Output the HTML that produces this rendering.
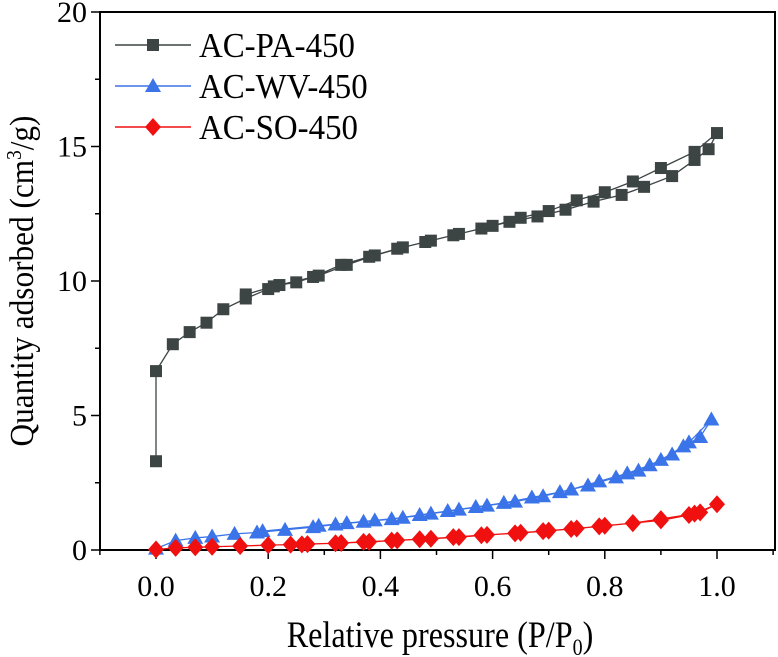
<!DOCTYPE html>
<html><head><meta charset="utf-8"><style>
body{margin:0;background:#fff;}
svg{display:block;font-family:"Liberation Serif",serif;}
</style></head><body>
<svg id="chart" width="778" height="657"></svg>
<script>
const xTicks=[0.0,0.2,0.4,0.6,0.8,1.0];
const xTickLabels=["0.0","0.2","0.4","0.6","0.8","1.0"];
const yTicks=[0,5,10,15,20];
const yTickLabels=["0","5","10","15","20"];
const paX=[0,0,0.03,0.06,0.09,0.12,0.16,0.2,0.22,0.25,0.28,0.33,0.38,0.43,0.48,0.53,0.58,0.63,0.68,0.73,0.78,0.83,0.87,0.92,0.96,0.985,1.0,0.96,0.9,0.85,0.8,0.75,0.7,0.65,0.6,0.54,0.49,0.44,0.39,0.34,0.29,0.21,0.16];
const paY=[3.3,6.65,7.65,8.1,8.45,8.95,9.35,9.7,9.85,9.95,10.15,10.6,10.9,11.2,11.45,11.7,11.95,12.2,12.4,12.65,12.95,13.2,13.5,13.9,14.5,14.9,15.5,14.8,14.2,13.7,13.3,13.0,12.6,12.35,12.05,11.75,11.5,11.25,10.95,10.6,10.2,9.8,9.5];
const wvX=[0,0.035,0.07,0.1,0.14,0.18,0.23,0.28,0.32,0.37,0.42,0.47,0.52,0.57,0.62,0.67,0.72,0.77,0.82,0.86,0.9,0.94,0.97,0.99,0.95,0.92,0.88,0.84,0.79,0.74,0.69,0.64,0.59,0.54,0.49,0.44,0.39,0.34,0.29,0.19];
const wvY=[0.05,0.35,0.45,0.5,0.6,0.65,0.75,0.85,0.95,1.05,1.15,1.3,1.45,1.6,1.75,1.95,2.15,2.4,2.7,2.95,3.35,3.85,4.2,4.85,4.0,3.55,3.15,2.85,2.55,2.25,2.0,1.8,1.65,1.5,1.35,1.2,1.1,1.0,0.9,0.7];
const soX=[0,0.035,0.07,0.1,0.15,0.2,0.24,0.27,0.32,0.37,0.42,0.47,0.53,0.58,0.64,0.69,0.74,0.8,0.85,0.9,0.95,0.97,1.0,0.96,0.9,0.85,0.79,0.75,0.7,0.65,0.59,0.54,0.49,0.43,0.38,0.33,0.26];
const soY=[0.02,0.08,0.1,0.12,0.15,0.18,0.2,0.22,0.25,0.3,0.35,0.4,0.48,0.55,0.62,0.7,0.78,0.9,1.0,1.1,1.3,1.4,1.7,1.35,1.15,1.0,0.88,0.8,0.72,0.64,0.56,0.48,0.42,0.36,0.3,0.26,0.21];

const NS="http://www.w3.org/2000/svg";
const svg=document.getElementById('chart');
const L=100,R=775,T=12,B=550;
const X0=156,X1=717;
const xs=v=>X0+(X1-X0)*v;
const ys=v=>B-(B-T)*v/20;
function mk(tag,attrs,parent){const e=document.createElementNS(NS,tag);for(const k in attrs)e.setAttribute(k,attrs[k]);(parent||svg).appendChild(e);return e;}

const frame=mk('rect',{x:L,y:T,width:R-L,height:B-T,fill:'none',stroke:'#000','stroke-width':2});



for(let v=-0.1;v<=1.1001;v+=0.1){const major=Math.abs(Math.round(v*10)%2)===0;
 const t=mk('line',{x1:xs(v),x2:xs(v),y1:B,y2:B+(major?9:5),stroke:'#000','stroke-width':1.5});
 
 }
xTicks.forEach((v,i)=>{const t=mk('text',{x:xs(v),y:596,'text-anchor':'middle','font-size':30});t.textContent=xTickLabels[i];
 
 });
for(let v=0;v<=20;v+=2.5){const major=v%5===0;
 const t=mk('line',{x1:L,x2:L-(major?9:5),y1:ys(v),y2:ys(v),stroke:'#000','stroke-width':1.5});
 
 }
yTicks.forEach((v,i)=>{const t=mk('text',{x:87,y:ys(v)+10,'text-anchor':'end','font-size':30});t.textContent=yTickLabels[i];
 
 });

const xt=mk('text',{x:0,y:0,'text-anchor':'middle','font-size':37,transform:'translate(440,647) scale(0.87,1)'});
xt.innerHTML='Relative pressure (P/P<tspan font-size="23" dy="8">0</tspan><tspan dy="-8">)</tspan>';


const yt=mk('text',{x:0,y:0,'text-anchor':'middle','font-size':34,transform:'translate(33,281) rotate(-90) scale(0.92,1)'});
yt.innerHTML='Quantity adsorbed (cm<tspan font-size="21" dy="-12">3</tspan><tspan dy="12">/g)</tspan>';



function marker(type,cx,cy,color,g){
 if(type==='sq')return mk('rect',{x:cx-6,y:cy-6,width:12,height:12,fill:color},g);
 if(type==='tri')return mk('polygon',{points:`${cx},${cy-8} ${cx+8},${cy+6} ${cx-8},${cy+6}`,fill:color},g);
 return mk('polygon',{points:`${cx},${cy-9} ${cx+8},${cy} ${cx},${cy+9} ${cx-8},${cy}`,fill:color},g);
}
function series(name,xa,ya,type,color,lc){
 const g=mk('g',{});
 
 
 mk('polyline',{points:xa.map((x,i)=>xs(x)+','+ys(ya[i])).join(' '),fill:'none',stroke:lc,'stroke-width':1.3},g);
 xa.forEach((x,i)=>{const m=marker(type,xs(x),ys(ya[i]),color,g);
  
  });
}
series('series-ac-pa-450',paX,paY,'sq','#3d4444','#3d4444');
series('series-ac-wv-450',wvX,wvY,'tri','#3b74e8','#3b74e8');
series('series-ac-so-450',soX,soY,'dia','#f01010','#f01010');

const leg=[['AC-PA-450','sq','#3d4444'],['AC-WV-450','tri','#3b74e8'],['AC-SO-450','dia','#f01010']];
leg.forEach((d,i)=>{const y=45+i*41;const g=mk('g',{});
 
 
 mk('line',{x1:115,x2:191,y1:y,y2:y,stroke:d[2],'stroke-width':1.5},g);
 marker(d[1],153,y,d[2],g);
 const t=mk('text',{x:0,y:0,'font-size':35,transform:`translate(199,${y+12}) scale(0.94,1)`},g);t.textContent=d[0];});
</script>
</body></html>
